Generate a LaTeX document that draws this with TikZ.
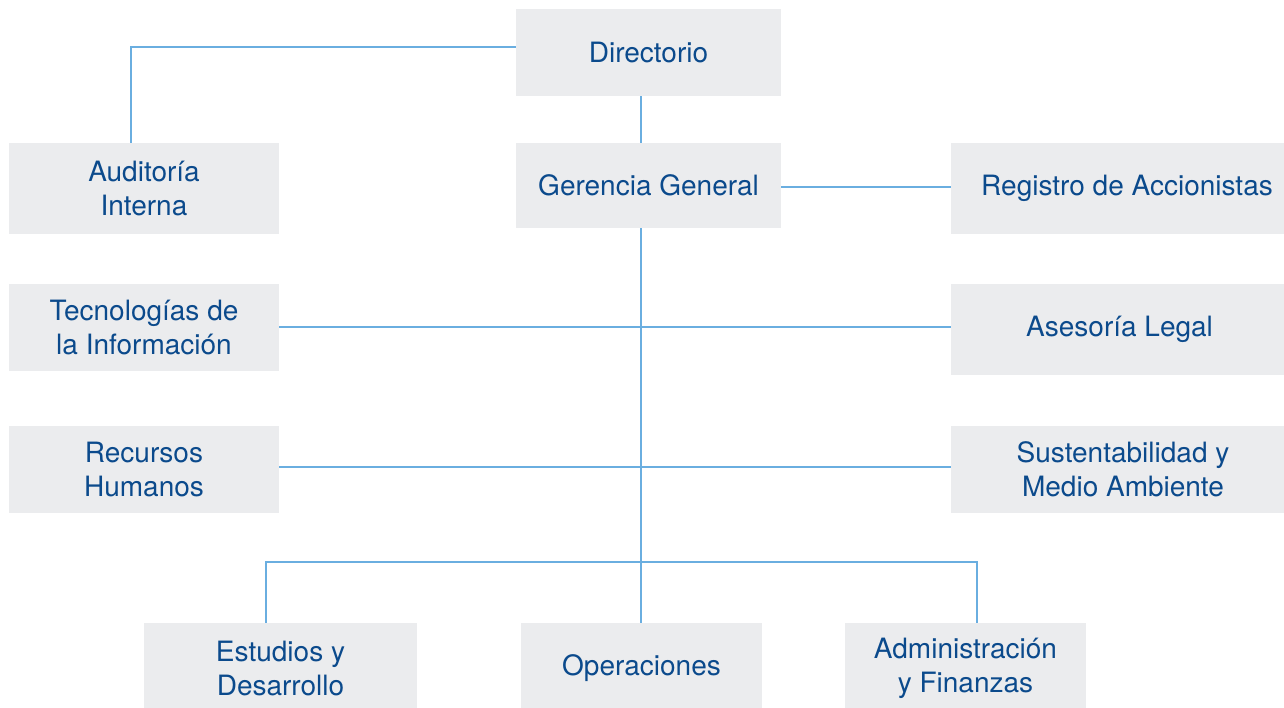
\documentclass[tikz,border=0pt]{standalone}
\usepackage{fontspec}
\setmainfont{TeX Gyre Heros}
\definecolor{boxfill}{HTML}{EBECEE}
\definecolor{txtblue}{HTML}{0B4A8C}
\definecolor{linkblue}{HTML}{6AAEE0}
\begin{document}
\begin{tikzpicture}[x=1pt,y=-1pt,
  orgbox/.style={fill=boxfill, text=txtblue, align=center, inner sep=0pt,
    font=\fontsize{28}{34}\selectfont},
  link/.style={draw=linkblue, line width=1.3pt}]
\useasboundingbox (0,0) rectangle (1284,707);
\newcommand\orgnode[6]{\node[orgbox, minimum width=#4-#2, minimum height=#5-#3] (#1) at ({(#2+#4)/2},{(#3+#5)/2}) {#6};}
\orgnode{dir}{516}{9}{781}{96}{Directorio}
\orgnode{ger}{516}{143}{781}{228}{Gerencia General}
\orgnode{aud}{9}{143}{279}{234}{Auditoría\\Interna}
\orgnode{reg}{951}{143}{1303}{234}{Registro de Accionistas}
\orgnode{tec}{9}{284}{279}{371}{Tecnologías de\\la Información}
\orgnode{ase}{951}{284}{1288}{375}{Asesoría Legal}
\orgnode{rec}{9}{426}{279}{513}{Recursos\\Humanos}
\orgnode{sus}{951}{426}{1295}{513}{Sustentabilidad y\\Medio Ambiente}
\orgnode{est}{144}{623}{417}{713}{Estudios y\\Desarrollo}
\orgnode{ope}{521}{623}{762}{713}{Operaciones}
\orgnode{adm}{845}{623}{1086}{713}{Administración\\y Finanzas}
\coordinate (trunk) at (641,562);
\draw[link] (dir.west |- 0,47) -| (aud.north -| 131,0);
\draw[link] (dir.south -| 641,0) -- (ger.north -| 641,0);
\draw[link] (ger.east |- 0,187) -- (reg.west |- 0,187);
\draw[link] (ger.south -| 641,0) -- (ope.north -| 641,0);
\draw[link] (tec.east |- 0,327) -- (ase.west |- 0,327);
\draw[link] (rec.east |- 0,467) -- (sus.west |- 0,467);
\draw[link] (est.north -| 266,0) |- (trunk) -| (adm.north -| 977,0);
\end{tikzpicture}
\end{document}
